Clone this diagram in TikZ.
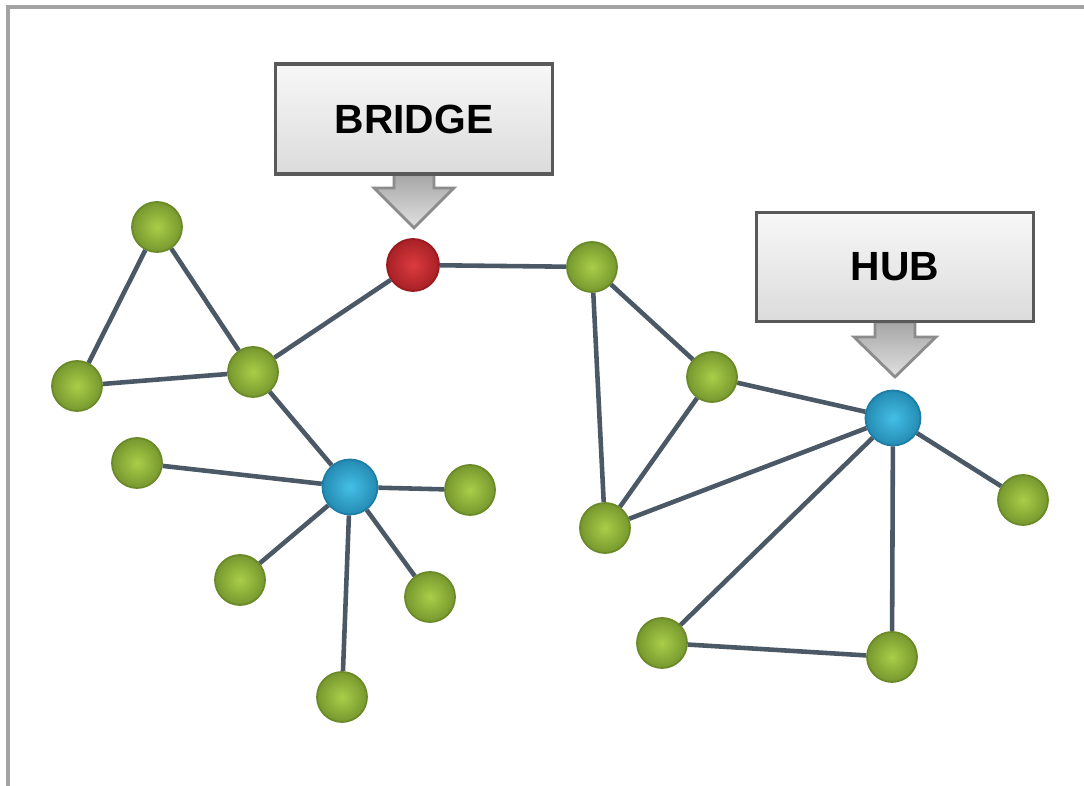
\documentclass[tikz,border=0pt]{standalone}
\usepackage{fontspec}
\setmainfont{Liberation Sans}
\usepackage{tikz}
\usetikzlibrary{shapes,arrows,positioning}

\definecolor{leaflight}{HTML}{A9CE48}
\definecolor{leafdark}{HTML}{6A8A28}
\definecolor{hublight}{HTML}{45BFE6}
\definecolor{hubdark}{HTML}{1C7EA6}
\definecolor{bridgelight}{HTML}{DC3B3F}
\definecolor{bridgedark}{HTML}{9A1A1F}
\definecolor{linkgray}{HTML}{4B5967}
\definecolor{framegray}{HTML}{A3A3A3}

\begin{document}
\begin{tikzpicture}[x=0.01cm, y=-0.01cm]
			\tikzstyle{Vertex}	= [circle, draw, minimum size=5mm, inner sep=0pt, line width=0.5pt]
			\tikzstyle{Leaf}	= [Vertex, draw=leafdark, inner color=leaflight, outer color=leafdark!80!leaflight]
			\tikzstyle{Hub}		= [Vertex, minimum size=5.5mm, draw=hubdark, inner color=hublight, outer color=hubdark!80!hublight]
			\tikzstyle{Bridge}	= [Vertex, minimum size=5.2mm, draw=bridgedark, inner color=bridgelight, outer color=bridgedark!80!bridgelight]
			\tikzstyle{Link}	= [line width=1.3pt, linkgray]
			\tikzstyle{Label}	= [rectangle, draw=black!65, line width=1pt, top color=black!3, bottom color=black!14, minimum width=2.77cm, minimum height=1.1cm, font=\fontsize{11.6}{14}\selectfont\bfseries]
			\tikzstyle{Pointer}	= [draw=black!45, line width=0.8pt, top color=black!35, bottom color=black!12]
			
			\useasboundingbox (0, 0) rectangle (1084, 786);
			\draw [framegray, line width=0.9pt] (8, 786) -- (8, 7) -- (1084, 7);
			
			% left group
			\node (top) at (157, 227) [Leaf] {};
			\node (left) at (77, 386) [Leaf] {};
			\node (mid) at (253, 372) [Leaf] {};
			\node (bridge) at (413, 265) [Bridge] {};
			\node (hubL) at (350, 487) [Hub] {};
			\node (l1) at (137, 463) [Leaf] {};
			\node (l2) at (470, 490) [Leaf] {};
			\node (l3) at (240, 580) [Leaf] {};
			\node (l4) at (430, 597) [Leaf] {};
			\node (l5) at (342, 697) [Leaf] {};
			
			% right group
			\node (r1) at (592, 267) [Leaf] {};
			\node (r2) at (712, 377) [Leaf] {};
			\node (r3) at (605, 528) [Leaf] {};
			\node (hubR) at (893, 418) [Hub] {};
			\node (r4) at (1023, 500) [Leaf] {};
			\node (r5) at (662, 643) [Leaf] {};
			\node (r6) at (892, 657) [Leaf] {};
			
			\draw [-] (top) to (left) [Link];
			\draw [-] (top) to (mid) [Link];
			\draw [-] (left) to (mid) [Link];
			\draw [-] (mid) to (bridge) [Link];
			\draw [-] (mid) to (hubL) [Link];
			\draw [-] (hubL) to (l1) [Link];
			\draw [-] (hubL) to (l2) [Link];
			\draw [-] (hubL) to (l3) [Link];
			\draw [-] (hubL) to (l4) [Link];
			\draw [-] (hubL) to (l5) [Link];
			
			\draw [-] (bridge) to (r1) [Link];
			\draw [-] (r1) to (r2) [Link];
			\draw [-] (r1) to (r3) [Link];
			\draw [-] (r2) to (r3) [Link];
			\draw [-] (r2) to (hubR) [Link];
			\draw [-] (r3) to (hubR) [Link];
			\draw [-] (hubR) to (r4) [Link];
			\draw [-] (hubR) to (r5) [Link];
			\draw [-] (hubR) to (r6) [Link];
			\draw [-] (r5) to (r6) [Link];
			
			% callouts
			\coordinate (bridgefoot) at (414, 174);
			\coordinate (hubfoot) at (895, 322);
			\path [Pointer] (bridgefoot) ++(-20, 0) -- ++(0, 14) -- ++(-20, 0) -- ++(40, 40) -- ++(40, -40) -- ++(-20, 0) -- ++(0, -14) -- cycle;
			\path [Pointer] (hubfoot) ++(-20, 0) -- ++(0, 15) -- ++(-21, 0) -- ++(41, 40) -- ++(41, -40) -- ++(-21, 0) -- ++(0, -15) -- cycle;
			\node (bridgebox) at (414, 119) [Label] {BRIDGE};
			\node (hubbox) at (895, 267) [Label, minimum height=1.09cm] {HUB};
		\end{tikzpicture}
\end{document}
